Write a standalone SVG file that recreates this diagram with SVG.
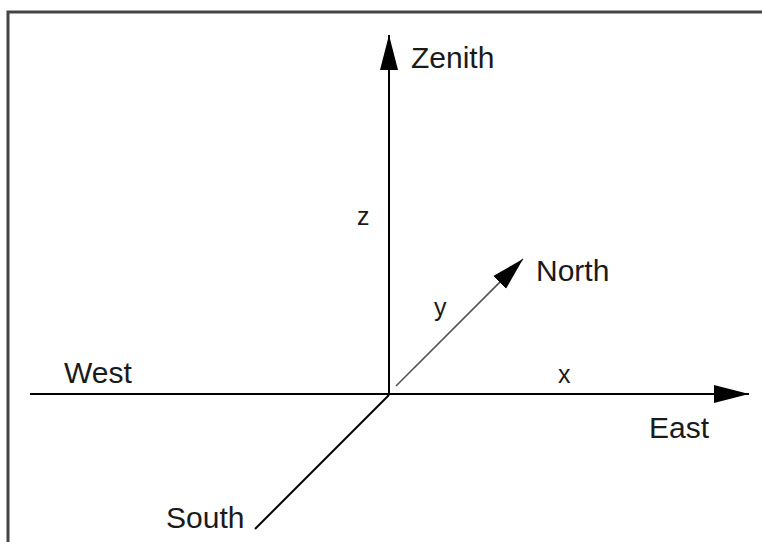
<svg xmlns="http://www.w3.org/2000/svg" width="762" height="542" viewBox="0 0 762 542">
<style>
.t{font-family:"Liberation Sans",Arial,sans-serif;fill:#1a1a1a}
.big{font-size:30px}
.sm{font-size:25px}
.ax{stroke:#000;stroke-width:2;fill:none}
</style>
<defs>
<marker id="ah" markerUnits="userSpaceOnUse" markerWidth="36" markerHeight="20" refX="35" refY="9" orient="auto" viewBox="0 0 36 18">
<path d="M0,0 L35,9 L0,18 Z" fill="#000"/>
</marker>
<marker id="ahn" markerUnits="userSpaceOnUse" markerWidth="34" markerHeight="20" refX="33" refY="9" orient="auto" viewBox="0 0 34 18">
<path d="M0,0 L33,9 L0,18 Z" fill="#000"/>
</marker>
</defs>
<rect width="762" height="542" fill="#fff"/>
<g id="frame">
<path d="M8,542 V12 H762" fill="none" stroke="#444" stroke-width="3"/>
</g>
<g id="connectors">
<line class="ax" x1="389" y1="394" x2="389" y2="35" marker-end="url(#ah)"/>
<line class="ax" x1="30" y1="394" x2="749" y2="394" marker-end="url(#ah)"/>
<line x1="396" y1="386" x2="523" y2="259" stroke="#555" stroke-width="1.6" marker-end="url(#ahn)"/>
<line class="ax" x1="389" y1="395" x2="255" y2="529" stroke-width="2.5"/>
</g>
<g id="zenith"><text class="t big" x="411" y="68">Zenith</text></g>
<g id="north"><text class="t big" x="536" y="281">North</text></g>
<g id="west"><text class="t big" x="64" y="383">West</text></g>
<g id="east"><text class="t big" x="649" y="438">East</text></g>
<g id="south"><text class="t big" x="166" y="528">South</text></g>
<g id="label-z"><text class="t sm" x="357" y="225">z</text></g>
<g id="label-y"><text class="t sm" x="434" y="316">y</text></g>
<g id="label-x"><text class="t sm" x="558" y="383">x</text></g>
</svg>
